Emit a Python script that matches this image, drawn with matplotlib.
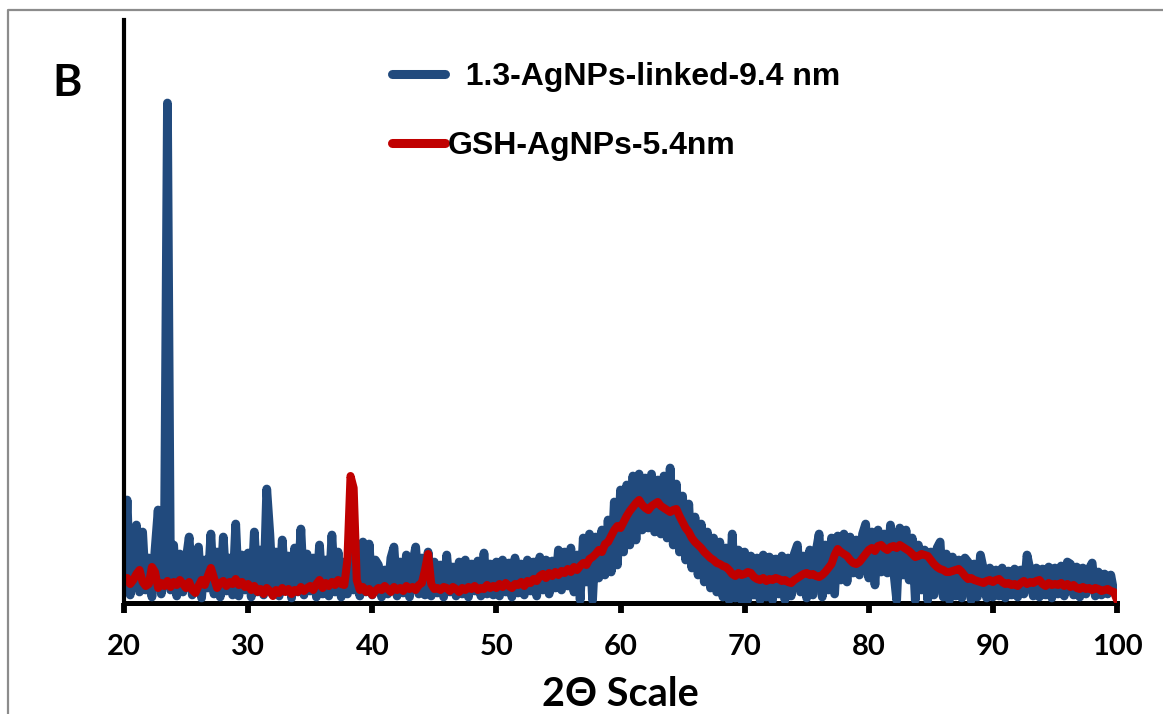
import numpy as np
import matplotlib
matplotlib.use("Agg")
import matplotlib.pyplot as plt
from matplotlib.lines import Line2D

# 2-theta scan grid (degrees), 0.25 deg steps from 20 to 100
two_theta = np.linspace(20, 100, 321)

# 1.3-AgNPs-linked (9.4 nm) intensity, arbitrary units
linked_9p4 = [
    20, 100, 5, 45, 75, 8, 68, 10, 42, 3, 50, 90, 6, 48, 497, 10, 55, 4, 46, 8,
    40, 63, 5, 44, 53, 2, 40, 12, 66, 6, 48, 3, 63, 9, 42, 5, 76, 4, 45, 10,
    47, 3, 68, 8, 50, 5, 111, 66, 7, 48, 4, 60, 10, 44, 2, 52, 8, 71, 5, 46,
    9, 42, 3, 55, 6, 40, 4, 65, 8, 48, 3, 38, 6, 44, 10, 35, 4, 58, 8, 56,
    5, 40, 35, 3, 30, 6, 42, 53, 4, 38, 7, 45, 3, 36, 53, 6, 42, 5, 48, 4,
    38, 7, 35, 3, 45, 8, 33, 4, 38, 6, 40, 3, 36, 9, 39, 4, 47, 6, 36, 5,
    38, 4, 40, 8, 37, 3, 42, 7, 36, 5, 40, 9, 38, 4, 43, 10, 40, 6, 39, 12,
    50, 10, 48, 14, 52, 8, 45, 0, 62, 18, 66, 0, 63, 22, 70, 25, 80, 28, 98, 35,
    110, 48, 115, 55, 124, 60, 126, 70, 122, 72, 126, 68, 120, 66, 124, 62, 132, 55, 116, 48,
    104, 40, 96, 32, 83, 25, 76, 18, 68, 12, 62, 8, 58, 3, 52, 0, 66, 2, 50, 0,
    48, 0, 44, 5, 42, 0, 45, 3, 43, 0, 41, 6, 44, 0, 42, 4, 46, 55, 8, 44,
    2, 50, 5, 48, 66, 3, 55, 10, 62, 6, 64, 20, 66, 18, 63, 27, 60, 25, 66, 76,
    22, 68, 15, 70, 28, 66, 27, 75, 30, 0, 72, 25, 70, 20, 62, 0, 55, 10, 50, 0,
    48, 5, 52, 58, 3, 46, 0, 43, 4, 40, 2, 42, 38, 0, 36, 3, 45, 30, 2, 32,
    3, 30, 4, 32, 2, 29, 5, 31, 3, 30, 6, 45, 30, 4, 32, 3, 31, 5, 33, 2,
    32, 6, 34, 4, 38, 36, 5, 33, 3, 32, 6, 31, 37, 4, 28, 5, 26, 6, 25, 8,
    5,
]

# GSH-AgNPs (5.4 nm) intensity, arbitrary units
gsh_5p4 = [
    18, 22, 16, 20, 26, 30, 18, 14, 16, 33, 28, 12, 17, 14, 19, 13, 18, 15, 20, 16,
    12, 18, 10, 7, 14, 20, 15, 24, 32, 22, 12, 17, 19, 14, 18, 16, 21, 15, 18, 13,
    16, 10, 14, 8, 11, 6, 12, 9, 4, 10, 7, 12, 8, 11, 6, 10, 8, 13, 9, 12,
    14, 10, 16, 20, 12, 17, 14, 18, 15, 20, 16, 15, 40, 124, 112, 20, 10, 13, 8, 11,
    5, 9, 12, 10, 14, 11, 8, 13, 10, 12, 9, 14, 11, 13, 10, 15, 17, 30, 46, 16,
    11, 12, 10, 13, 12, 9, 13, 11, 8, 12, 10, 13, 11, 14, 10, 12, 11, 15, 12, 14,
    12, 16, 13, 17, 14, 12, 16, 15, 18, 14, 19, 17, 21, 19, 24, 26, 22, 27, 24, 28,
    25, 29, 27, 31, 28, 33, 30, 34, 37, 35, 41, 43, 46, 50, 48, 56, 58, 64, 70, 74,
    72, 78, 84, 89, 93, 97, 100, 95, 92, 90, 94, 96, 98, 94, 92, 90, 88, 90, 91, 84,
    78, 72, 68, 62, 58, 55, 52, 48, 45, 42, 40, 37, 36, 34, 33, 30, 26, 24, 27, 25,
    26, 28, 27, 23, 21, 20, 22, 19, 21, 20, 22, 21, 19, 20, 18, 17, 20, 22, 24, 26,
    27, 25, 26, 24, 23, 25, 28, 32, 36, 45, 51, 48, 46, 44, 40, 37, 36, 38, 42, 46,
    50, 52, 49, 54, 55, 52, 50, 53, 54, 52, 55, 53, 51, 49, 46, 43, 44, 46, 45, 44,
    40, 36, 33, 31, 30, 28, 28, 29, 30, 31, 28, 24, 21, 22, 20, 19, 18, 17, 19, 20,
    18, 20, 21, 18, 16, 17, 15, 16, 14, 17, 19, 16, 18, 17, 19, 20, 16, 14, 17, 15,
    16, 15, 17, 14, 16, 13, 15, 12, 11, 13, 11, 12, 10, 12, 11, 9, 10, 11, 9, 8,
    0,
]

x_ticks = [20, 30, 40, 50, 60, 70, 80, 90, 100]
label_linked = "  1.3-AgNPs-linked-9.4 nm"
label_gsh = "GSH-AgNPs-5.4nm"

BLUE = "#214A7D"
RED = "#C00000"

W, H = 1163, 714
fig = plt.figure(figsize=(W / 100, H / 100), dpi=100)
fig.patch.set_facecolor("white")

# outer chart-area border (gray)
fig.add_artist(Line2D([8 / W, 8 / W, 1.0], [0.0, 1 - 10 / H, 1 - 10 / H],
                      transform=fig.transFigure, color="#8c8c8c", lw=1.6))

ax = fig.add_axes([124 / W, 1 - 603 / H, (1117 - 124) / W, (603 - 20) / H])
ax.set_facecolor("none")

ln_b, = ax.plot(two_theta, linked_9p4, color=BLUE, lw=6.3,
                solid_capstyle="round", solid_joinstyle="round", zorder=3,
                label=label_linked)
ln_r, = ax.plot(two_theta, gsh_5p4, color=RED, lw=5.8,
                solid_capstyle="round", solid_joinstyle="round", zorder=4,
                label=label_gsh)

ax.set_xlim(20, 100)
ax.set_ylim(-3, 580)

for side in ("top", "right"):
    ax.spines[side].set_visible(False)
ax.spines["left"].set_linewidth(3.0)
ax.spines["left"].set_color("black")
ax.spines["left"].set_zorder(6)
ax.spines["bottom"].set_linewidth(3.6)
ax.spines["bottom"].set_color("black")
ax.spines["bottom"].set_zorder(1)

ax.set_yticks([])
ax.set_xticks(x_ticks)
ax.tick_params(axis="x", direction="out", length=7, width=4.2, color="black",
               pad=15)
for t in ax.get_xticklabels():
    t.set_fontfamily(["Lato", "DejaVu Sans"])
    t.set_fontweight("bold")
    t.set_fontsize(21)

ax.set_xlabel("2\u0398 Scale", fontsize=28.5, fontweight="bold",
              family=["Lato", "DejaVu Sans"], labelpad=12)

fig.text(52 / W, 1 - 83 / H, "B", fontsize=32, fontweight="bold",
         family=["Lato", "DejaVu Sans"], ha="left", va="center")

leg = ax.legend(handles=[ln_b, ln_r], loc="upper left",
                bbox_to_anchor=(392 / W, 1 - 62 / H),
                bbox_transform=fig.transFigure, frameon=False,
                prop={"family": ["Liberation Sans", "DejaVu Sans"],
                      "weight": "bold", "size": 23},
                handlelength=1.65, handletextpad=0.1, labelspacing=1.22,
                borderpad=0, borderaxespad=0)
for h in leg.legend_handles:
    h.set_linewidth(6.5)

fig.savefig("out.png", dpi=100, facecolor="white")
